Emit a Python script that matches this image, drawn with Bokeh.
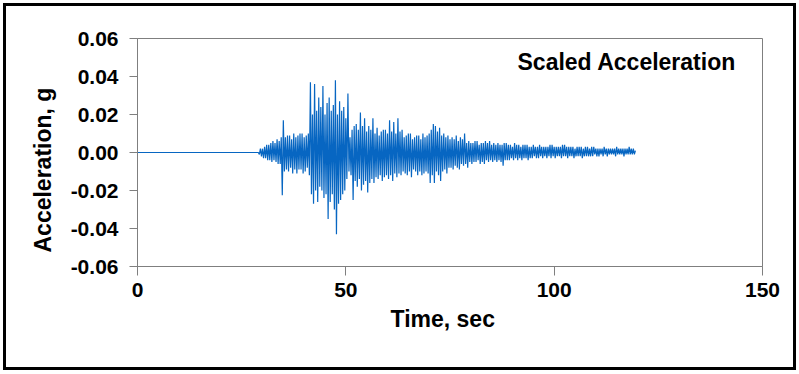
from bokeh.plotting import figure
from bokeh.models import FixedTicker, NumeralTickFormatter, Label, Range1d, Title
from bokeh.embed import file_html
from bokeh.resources import INLINE

# ---- data ----
quiet_time = [0.0, 29.0]          # s, flat record before the event
quiet_acc = [0.0, 0.0]            # g
record_start = 29.0               # s
half_step = 0.25                  # s between a crest and the next trough
# crests (g), at 29.0, 29.5, 30.0, ... s
crest_acc = [
    0.000, 0.002, 0.002, 0.003, 0.004, 0.004, 0.005, 0.006, 0.005, 0.007,
    0.006, 0.008, 0.017, 0.008, 0.009, 0.009, 0.007, 0.010, 0.008, 0.009,
    0.010, 0.010, 0.008, 0.009, 0.010, 0.037, 0.020, 0.036, 0.022, 0.029,
    0.024, 0.035, 0.020, 0.026, 0.029, 0.022, 0.025, 0.038, 0.020, 0.027,
    0.022, 0.024, 0.018, 0.031, 0.008, 0.012, 0.014, 0.015, 0.012, 0.021,
    0.014, 0.018, 0.011, 0.014, 0.012, 0.018, 0.010, 0.013, 0.009, 0.011,
    0.012, 0.012, 0.010, 0.017, 0.011, 0.016, 0.010, 0.018, 0.011, 0.012,
    0.008, 0.009, 0.010, 0.010, 0.007, 0.008, 0.009, 0.009, 0.007, 0.010,
    0.008, 0.009, 0.010, 0.012, 0.015, 0.014, 0.011, 0.013, 0.009, 0.010,
    0.008, 0.009, 0.007, 0.008, 0.007, 0.009, 0.006, 0.008, 0.007, 0.010,
    0.005, 0.006, 0.005, 0.005, 0.006, 0.006, 0.004, 0.005, 0.005, 0.006,
    0.005, 0.006, 0.004, 0.005, 0.004, 0.005, 0.004, 0.004, 0.005, 0.005,
    0.004, 0.004, 0.003, 0.005, 0.004, 0.004, 0.003, 0.004, 0.004, 0.004,
    0.003, 0.003, 0.004, 0.003, 0.003, 0.004, 0.003, 0.003, 0.003, 0.003,
    0.004, 0.004, 0.003, 0.003, 0.003, 0.003, 0.004, 0.004, 0.003, 0.003,
    0.003, 0.003, 0.002, 0.003, 0.003, 0.003, 0.002, 0.003, 0.003, 0.002,
    0.003, 0.003, 0.002, 0.002, 0.002, 0.002, 0.003, 0.002, 0.002, 0.002,
    0.002, 0.002, 0.003, 0.002, 0.002, 0.002, 0.002, 0.002, 0.003, 0.002,
    0.002, 0.001,
]
# troughs (g), at 29.25, 29.75, 30.25, ... s
trough_acc = [
    -0.001, -0.002, -0.003, -0.003, -0.004, -0.004, -0.005, -0.004, -0.005, -0.006,
    -0.006, -0.0225, -0.010, -0.009, -0.010, -0.008, -0.011, -0.009, -0.011, -0.009,
    -0.009, -0.011, -0.010, -0.008, -0.012, -0.022, -0.027, -0.020, -0.026, -0.018,
    -0.020, -0.024, -0.022, -0.035, -0.026, -0.022, -0.030, -0.043, -0.027, -0.025,
    -0.022, -0.020, -0.014, -0.010, -0.012, -0.025, -0.015, -0.018, -0.014, -0.020,
    -0.017, -0.015, -0.021, -0.016, -0.014, -0.016, -0.013, -0.014, -0.012, -0.015,
    -0.013, -0.012, -0.014, -0.012, -0.015, -0.011, -0.013, -0.011, -0.012, -0.010,
    -0.011, -0.012, -0.010, -0.013, -0.009, -0.010, -0.012, -0.010, -0.012, -0.011,
    -0.010, -0.011, -0.016, -0.012, -0.016, -0.010, -0.012, -0.015, -0.010, -0.009,
    -0.011, -0.008, -0.008, -0.009, -0.007, -0.008, -0.009, -0.006, -0.007, -0.006,
    -0.008, -0.005, -0.006, -0.005, -0.005, -0.004, -0.006, -0.005, -0.006, -0.004,
    -0.005, -0.004, -0.005, -0.004, -0.005, -0.004, -0.005, -0.007, -0.004, -0.004,
    -0.004, -0.003, -0.004, -0.003, -0.004, -0.003, -0.004, -0.003, -0.003, -0.004,
    -0.003, -0.003, -0.002, -0.003, -0.003, -0.002, -0.003, -0.002, -0.003, -0.002,
    -0.003, -0.002, -0.003, -0.002, -0.002, -0.003, -0.002, -0.002, -0.003, -0.002,
    -0.002, -0.003, -0.002, -0.002, -0.002, -0.003, -0.002, -0.002, -0.002, -0.002,
    -0.002, -0.001, -0.002, -0.002, -0.001, -0.002, -0.001, -0.002, -0.001, -0.001,
    -0.001, -0.002, -0.001, -0.001, -0.001, -0.002, -0.001, -0.001, -0.001, -0.001,
    -0.001,
]
x_ticks = [0, 50, 100, 150]
y_ticks = [-0.06, -0.04, -0.02, 0.0, 0.02, 0.04, 0.06]
panel_title = "Scaled Acceleration"
x_title = "Time, sec"
y_title = "Acceleration, g"

# interleave crests and troughs into one record
time = list(quiet_time)
acc = list(quiet_acc)
for k, c in enumerate(crest_acc):
    if k > 0:
        time.append(record_start + 2 * half_step * k)
        acc.append(c)
    if k < len(trough_acc):
        time.append(record_start + 2 * half_step * k + half_step)
        acc.append(trough_acc[k])

FONT = "Liberation Sans"
GRAY = "#7f7f7f"
BLUE = "#0766C2"

p = figure(width=793, height=367,
           x_range=Range1d(0, 150), y_range=Range1d(-0.06, 0.06),
           output_backend="svg", toolbar_location=None,
           min_border_left=131, min_border_right=37,
           min_border_top=32, min_border_bottom=107,
           background_fill_color="white", border_fill_color="white",
           outline_line_color=GRAY, outline_line_width=1)
p.styles = {"border": "3px solid black", "margin-left": "3px", "margin-top": "3px"}

p.xgrid.visible = False
p.ygrid.visible = False

p.line(time, acc, line_color=BLUE, line_width=1.2)

for ax in (p.xaxis[0], p.yaxis[0]):
    ax.axis_line_color = GRAY
    ax.major_tick_line_color = GRAY
    ax.minor_tick_line_color = None
    ax.major_tick_in = 0
    ax.major_label_text_font = FONT
    ax.major_label_text_font_style = "bold"
    ax.major_label_text_font_size = "21px"
    ax.major_label_text_color = "black"

p.xaxis[0].ticker = FixedTicker(ticks=x_ticks)
p.xaxis[0].major_tick_out = 9
p.xaxis[0].major_label_standoff = 7

p.yaxis[0].ticker = FixedTicker(ticks=y_ticks)
p.yaxis[0].formatter = NumeralTickFormatter(format="0.00")
p.yaxis[0].major_tick_out = 8
p.yaxis[0].major_label_standoff = 11

common = dict(text_font=FONT, text_font_style="bold", text_font_size="23px", text_color="black")
p.add_layout(Label(x=91.2, y=0.0474, text=panel_title, text_align="left",
                   text_baseline="alphabetic", **common))
p.add_layout(Title(text=x_title, align="left", offset=253, standoff=8, **common), "below")
p.add_layout(Title(text=y_title, align="left", offset=14, standoff=23, **common), "left")

open("out.html", "w").write(file_html(p, INLINE))
